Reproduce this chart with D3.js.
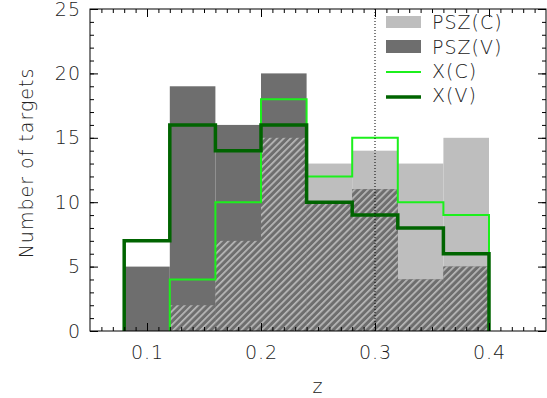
<!DOCTYPE html>
<html>
<head>
<meta charset="utf-8">
<script src="https://cdn.jsdelivr.net/npm/d3@7"></script>
<style>
  body { margin: 0; background: #fff; }
  text { font-family: "DejaVu Sans", sans-serif; font-weight: 200; fill: #222; letter-spacing: 1px; }
</style>
</head>
<body>
<script>
// Bin edges in redshift and counts per bin
var binEdges = [0.08, 0.12, 0.16, 0.20, 0.24, 0.28, 0.32, 0.36, 0.40];
var pszC = [0, 2, 7, 15, 13, 14, 13, 15];
var pszV = [5, 19, 16, 20, 10, 11, 4, 5];
var xC = [0, 4, 10, 18, 12, 15, 10, 9];
var xV = [7, 16, 14, 16, 10, 9, 8, 6];
var xTicks = [0.1, 0.2, 0.3, 0.4];
var yTicks = [0, 5, 10, 15, 20, 25];
var zMark = 0.3;

var svgWidth = 547;
var svgHeight = 398;

var svg = d3.select("body")
            .append("svg")
            .attr("width", svgWidth)
            .attr("height", svgHeight);

var x = d3.scaleLinear().domain([0.05, 0.45]).range([90, 546]);
var y = d3.scaleLinear().domain([0, 25]).range([331, 9]);

// hatch pattern for the overlap of the two PSZ histograms
var defs = svg.append("defs");
var pat = defs.append("pattern")
              .attr("id", "hatch")
              .attr("patternUnits", "userSpaceOnUse")
              .attr("width", 4.8)
              .attr("height", 4.8)
              .attr("patternTransform", "rotate(45)");
pat.append("rect").attr("width", 4.8).attr("height", 4.8).attr("fill", "#6e6e6e");
pat.append("rect").attr("x", 0).attr("width", 1.7).attr("height", 4.8).attr("fill", "#b9b9b9");

var bins = d3.range(pszC.length).map(function(i) {
  return { x0: binEdges[i], x1: binEdges[i + 1], c: pszC[i], v: pszV[i] };
});

function bars(cls, key, fill) {
  svg.selectAll("rect." + cls)
     .data(bins.filter(function(d) { return key(d) > 0; }))
     .enter()
     .append("rect")
     .attr("class", cls)
     .attr("x", function(d) { return x(d.x0); })
     .attr("width", function(d) { return x(d.x1) - x(d.x0); })
     .attr("y", function(d) { return y(key(d)); })
     .attr("height", function(d) { return y(0) - y(key(d)); })
     .attr("fill", fill);
}

bars("pszc", function(d) { return d.c; }, "#bebebe");
bars("pszv", function(d) { return d.v; }, "#6e6e6e");
bars("both", function(d) { return Math.min(d.c, d.v); }, "url(#hatch)");

// step outlines
function stepPoints(vals) {
  var start = 0;
  while (vals[start] === 0) start++;
  var pts = [[binEdges[start], 0]];
  for (var i = start; i < vals.length; i++) pts.push([binEdges[i], vals[i]]);
  pts.push([binEdges[binEdges.length - 1], 0]);
  return pts;
}

var line = d3.line()
             .x(function(d) { return x(d[0]); })
             .y(function(d) { return y(d[1]); })
             .curve(d3.curveStepAfter);

svg.append("path")
   .attr("d", line(stepPoints(xC)))
   .attr("fill", "none")
   .attr("stroke", "#1cf01c")
   .attr("stroke-width", 2);

svg.append("path")
   .attr("d", line(stepPoints(xV)))
   .attr("fill", "none")
   .attr("stroke", "#006400")
   .attr("stroke-width", 3.5);

// dotted line at z = 0.3
svg.append("line")
   .attr("x1", x(zMark)).attr("x2", x(zMark))
   .attr("y1", y(0)).attr("y2", y(25))
   .attr("stroke", "#000")
   .attr("stroke-width", 1)
   .attr("stroke-dasharray", "1,2");

// axes: ticks inward on all four sides
var xMinor = d3.range(6, 45).map(function(d) { return d / 100; });
var yMinor = d3.range(0, 26);

function addAxis(axis, tx, ty, labels) {
  var g = svg.append("g").attr("transform", "translate(" + tx + "," + ty + ")").call(axis);
  g.select(".domain").remove();
  g.selectAll("text").style("font-size", "19px").attr("fill", "#222");
  if (!labels) g.selectAll("text").remove();
  return g;
}

addAxis(d3.axisBottom(x).tickValues(xMinor).tickSize(-4).tickFormat(""), 0, y(0), false);
addAxis(d3.axisTop(x).tickValues(xMinor).tickSize(-4).tickFormat(""), 0, y(25), false);
addAxis(d3.axisLeft(y).tickValues(yMinor).tickSize(-4).tickFormat(""), x(0.05), 0, false);
addAxis(d3.axisRight(y).tickValues(yMinor).tickSize(-4).tickFormat(""), x(0.45), 0, false);

addAxis(d3.axisBottom(x).tickValues(xTicks).tickSize(-8).tickPadding(15).tickFormat(d3.format(".1f")), 0, y(0), true);
addAxis(d3.axisTop(x).tickValues(xTicks).tickSize(-8), 0, y(25), false);
addAxis(d3.axisLeft(y).tickValues(yTicks).tickSize(-8).tickPadding(9), x(0.05), 0, true);
addAxis(d3.axisRight(y).tickValues(yTicks).tickSize(-8), x(0.45), 0, false);

svg.append("rect")
   .attr("x", x(0.05)).attr("y", y(25))
   .attr("width", x(0.45) - x(0.05))
   .attr("height", y(0) - y(25))
   .attr("fill", "none")
   .attr("stroke", "#000")
   .attr("stroke-width", 1);

// axis titles
svg.append("text")
   .attr("x", x(0.25))
   .attr("y", 393)
   .attr("text-anchor", "middle")
   .style("font-size", "19px")
   .text("z");

svg.append("text")
   .attr("transform", "translate(33,163) rotate(-90)")
   .attr("text-anchor", "middle")
   .style("font-size", "19px")
   .text("Number of targets");

// legend
var legend = svg.append("g").attr("transform", "translate(386,0)");
legend.append("rect").attr("x", 0).attr("y", 16).attr("width", 35).attr("height", 12).attr("fill", "#bebebe");
legend.append("rect").attr("x", 0).attr("y", 40).attr("width", 35).attr("height", 13).attr("fill", "#6e6e6e");
legend.append("line").attr("x1", 0).attr("x2", 35).attr("y1", 72).attr("y2", 72)
      .attr("stroke", "#1cf01c").attr("stroke-width", 2);
legend.append("line").attr("x1", 0).attr("x2", 35).attr("y1", 97).attr("y2", 97)
      .attr("stroke", "#006400").attr("stroke-width", 3.5);

var legendLabels = ["PSZ(C)", "PSZ(V)", "X(C)", "X(V)"];
var legendY = [22, 47, 71, 95];
legend.selectAll("text.lg")
      .data(legendLabels)
      .enter()
      .append("text")
      .attr("class", "lg")
      .attr("x", 46)
      .attr("y", function(d, i) { return legendY[i]; })
      .attr("dy", "0.36em")
      .style("font-size", "19px")
      .text(function(d) { return d; });
</script>
</body>
</html>
